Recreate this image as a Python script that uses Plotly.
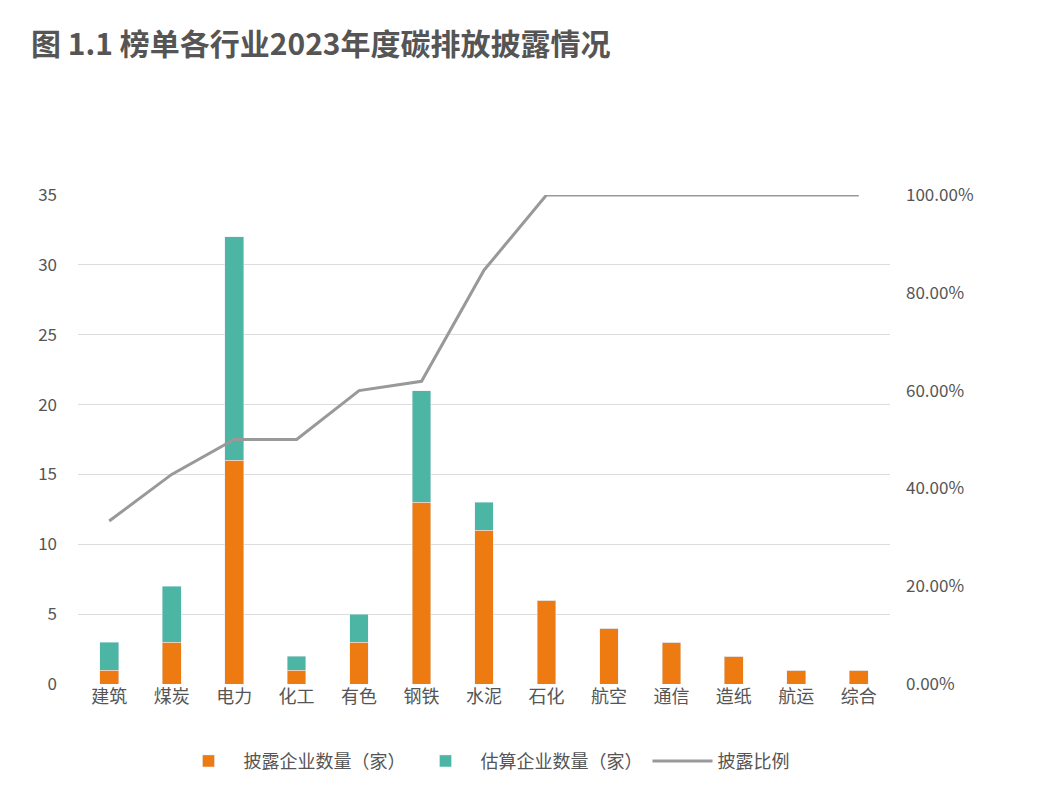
import plotly.graph_objects as go

categories = ["建筑","煤炭","电力","化工","有色","钢铁","水泥","石化","航空","通信","造纸","航运","综合"]
disclosed = [1,3,16,1,3,13,11,6,4,3,2,1,1]
estimated = [2,4,16,1,2,8,2,0,0,0,0,0,0]
ratio = [0.3333,0.4286,0.5,0.5,0.6,0.619,0.8462,1,1,1,1,1,1]

font = "Noto Sans CJK SC"
fig = go.Figure()
fig.add_bar(x=categories, y=disclosed, name="披露企业数量（家）", marker_color="#EE7A12", width=0.3)
fig.add_bar(x=categories, y=estimated, name="估算企业数量（家）", marker_color="#4DB5A3", width=0.3)
fig.add_scatter(x=categories, y=ratio, name="披露比例", yaxis="y2", mode="lines",
                line=dict(color="#999999", width=3))
fig.update_layout(
    barmode="stack", width=1045, height=804,
    paper_bgcolor="white", plot_bgcolor="white",
    font=dict(family=font, size=17, color="#555555"),
    margin=dict(l=70, r=163, t=187, b=128),
    title=dict(text="<b>图 1.1 榜单各行业2023年度碳排放披露情况</b>", x=0.022, xanchor="left",
               y=0.955, yanchor="middle", font=dict(size=30, color="#555555")),
    xaxis=dict(showline=False, ticks="", tickfont=dict(size=18)),
    yaxis=dict(range=[0,35], dtick=5, gridcolor="#DDDDDD", zeroline=False, ticklabelstandoff=20),
    yaxis2=dict(range=[0,1], overlaying="y", side="right", tickformat=".2%", dtick=0.2,
                showgrid=False, zeroline=False, ticklabelstandoff=15),
    legend=dict(orientation="h", x=0.5, xanchor="center", y=-0.12, yanchor="top",
                traceorder="normal", font=dict(size=18), itemwidth=60),
)
fig.write_html("out.html")
